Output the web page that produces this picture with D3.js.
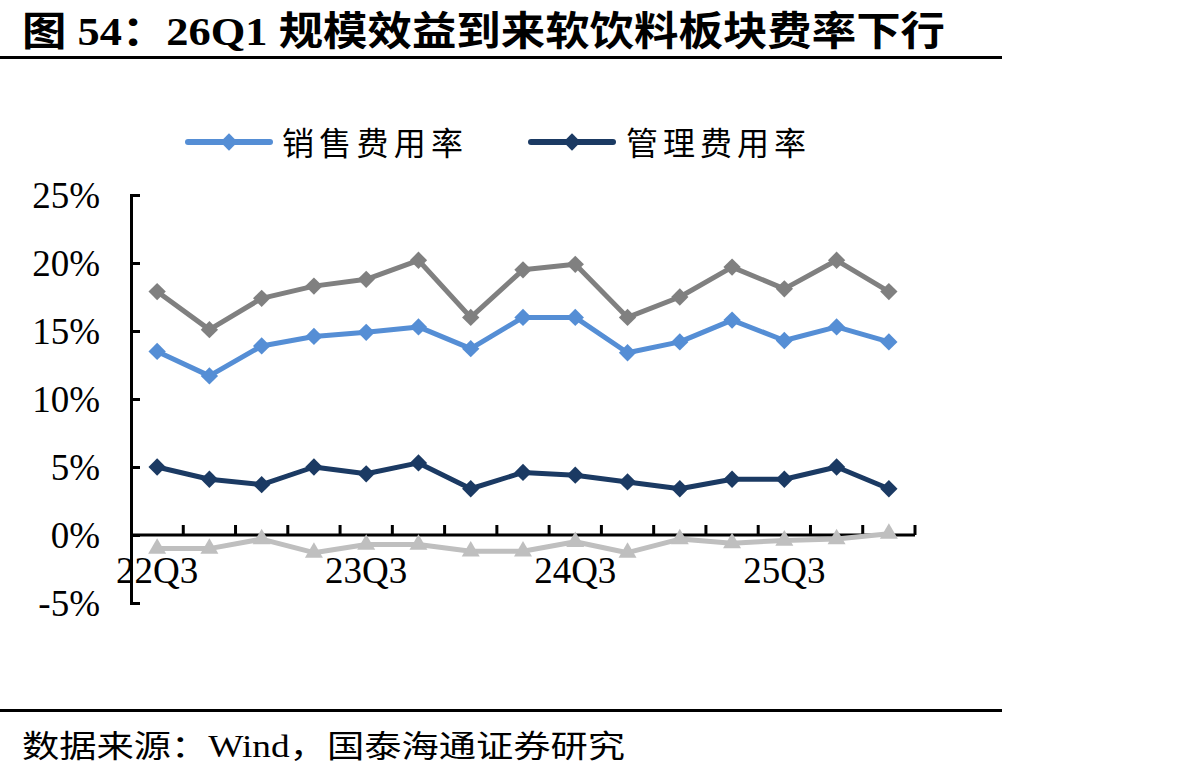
<!DOCTYPE html>
<html><head><meta charset="utf-8">
<script src="https://cdn.jsdelivr.net/npm/d3@7"></script>
<style>
html,body{margin:0;padding:0;background:#fff;}
svg{display:block;}
</style></head>
<body>
<svg id="chart" width="1188" height="778"></svg>
<script>
const categories = ["22Q3","22Q4","23Q1","23Q2","23Q3","23Q4","24Q1","24Q2","24Q3","24Q4","25Q1","25Q2","25Q3","25Q4","26Q1"];
const xLabels = ["22Q3","23Q3","24Q3","25Q3"];
const periodRate = [17.9, 15.1, 17.4, 18.3, 18.8, 20.2, 16.0, 19.5, 19.9, 16.0, 17.5, 19.7, 18.1, 20.2, 17.9];
const salesRate  = [13.5, 11.7, 13.9, 14.6, 14.9, 15.3, 13.7, 16.0, 16.0, 13.4, 14.2, 15.8, 14.3, 15.3, 14.2];
const adminRate  = [5.0, 4.1, 3.7, 5.0, 4.5, 5.3, 3.4, 4.6, 4.4, 3.9, 3.4, 4.1, 4.1, 5.0, 3.4];
const financeRate = [-1.0, -1.0, -0.3, -1.3, -0.7, -0.7, -1.2, -1.2, -0.5, -1.3, -0.3, -0.6, -0.4, -0.3, 0.1];
const yTicks = [-5, 0, 5, 10, 15, 20, 25];
const legendNames = ["销售费用率", "管理费用率"];
const titleText = "图 54：26Q1 规模效益到来软饮料板块费率下行";
const sourceText = "数据来源：Wind，国泰海通证券研究";

const svg = d3.select("#chart");
const serif = "'Liberation Serif','Times New Roman','Noto Sans CJK SC',serif";

// Title and rules
svg.append("text").attr("x", 22).attr("y", 45)
  .attr("font-family", serif).attr("font-weight", "bold").attr("font-size", 40)
  .attr("textLength", 923).attr("lengthAdjust", "spacingAndGlyphs")
  .text(titleText);
svg.append("rect").attr("x", 0).attr("y", 56).attr("width", 1002).attr("height", 3).attr("fill", "#000");
svg.append("rect").attr("x", 0).attr("y", 709).attr("width", 1002).attr("height", 3).attr("fill", "#000");
svg.append("text").attr("x", 22).attr("y", 757)
  .attr("font-family", serif).attr("font-size", 31)
  .attr("textLength", 603).attr("lengthAdjust", "spacingAndGlyphs")
  .text(sourceText);

// Scales
const x = d3.scaleBand().domain(categories).range([131, 915]).padding(0);
const cx = c => x(c) + x.bandwidth() / 2;
const y = d3.scaleLinear().domain([-5, 25]).range([603, 195]);

// Y axis
const yAxis = d3.axisLeft(y).tickValues(yTicks).tickSize(-9).tickPadding(31)
  .tickFormat(d => d + "%");
const gy = svg.append("g").attr("transform", "translate(131,0)").call(yAxis);
gy.select(".domain").attr("stroke", "#000").attr("stroke-width", 3);
gy.selectAll(".tick line").attr("stroke", "#000").attr("stroke-width", 3);
gy.selectAll(".tick text").attr("font-family", serif).attr("font-size", 37).attr("fill", "#000").attr("dy", "0.34em");

// X axis (at 0%)
const gx = svg.append("g");
const bw = x.bandwidth();
gx.append("line").attr("x1", 131).attr("x2", 915).attr("y1", y(0)).attr("y2", y(0))
  .attr("stroke", "#000").attr("stroke-width", 3);
const boundaries = categories.map(c => x(c)).concat([x(categories[categories.length - 1]) + bw]);
gx.selectAll("line.tk").data(boundaries.slice(1)).enter().append("line").attr("class", "tk")
  .attr("x1", d => d).attr("x2", d => d).attr("y1", y(0)).attr("y2", y(0) - 10)
  .attr("stroke", "#000").attr("stroke-width", 3);
gx.selectAll("text").data(xLabels).enter().append("text")
  .attr("x", d => cx(d)).attr("y", 583).attr("text-anchor", "middle")
  .attr("font-family", serif).attr("font-size", 37).attr("fill", "#000").text(d => d);

// Series
const line = d3.line().x((d, i) => cx(categories[i])).y(d => y(d));
function drawSeries(vals, color, marker) {
  svg.append("path").datum(vals).attr("d", line).attr("fill", "none")
    .attr("stroke", color).attr("stroke-width", 5).attr("stroke-linejoin", "round");
  const g = svg.append("g");
  vals.forEach((v, i) => {
    if (marker === "diamond") {
      g.append("path").attr("d", d3.symbol().type(d3.symbolSquare).size(150)())
        .attr("transform", `translate(${cx(categories[i])},${y(v)}) rotate(45)`).attr("fill", color);
    } else {
      g.append("path").attr("d", d3.symbol().type(d3.symbolTriangle).size(140)())
        .attr("transform", `translate(${cx(categories[i])},${y(v)})`).attr("fill", color);
    }
  });
}
drawSeries(periodRate, "#808080", "diamond");
drawSeries(salesRate, "#558ED5", "diamond");
drawSeries(adminRate, "#1B3A63", "diamond");
drawSeries(financeRate, "#BFBFBF", "triangle");

// Legend
const legendItems = [
  {name: legendNames[0], color: "#558ED5", x1: 188, x2: 270, tx: 282, tw: 181},
  {name: legendNames[1], color: "#1B3A63", x1: 531, x2: 613, tx: 626, tw: 180}
];
legendItems.forEach(it => {
  svg.append("line").attr("x1", it.x1).attr("x2", it.x2).attr("y1", 142).attr("y2", 142)
    .attr("stroke", it.color).attr("stroke-width", 6).attr("stroke-linecap", "round");
  svg.append("path").attr("d", d3.symbol().type(d3.symbolSquare).size(150)())
    .attr("transform", `translate(${(it.x1 + it.x2) / 2},142) rotate(45)`).attr("fill", it.color);
  svg.append("text").attr("x", it.tx).attr("y", 155)
    .attr("font-family", "'Noto Sans CJK SC',sans-serif").attr("font-size", 32)
    .attr("textLength", it.tw).attr("lengthAdjust", "spacing")
    .text(it.name);
});
</script>
</body></html>
